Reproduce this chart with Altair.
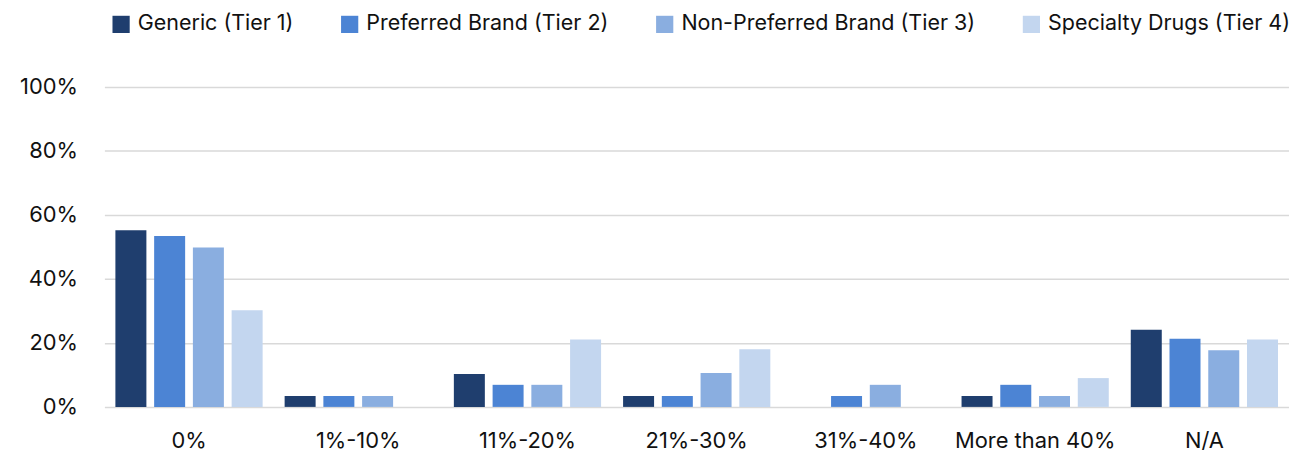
import altair as alt
import pandas as pd

categories = ["0%", "1%-10%", "11%-20%", "21%-30%", "31%-40%", "More than 40%", "N/A"]
series_names = ["Generic (Tier 1)", "Preferred Brand (Tier 2)",
                "Non-Preferred Brand (Tier 3)", "Specialty Drugs (Tier 4)"]
tier1 = [55.2, 3.4, 10.3, 3.4, 0.0, 3.4, 24.1]
tier2 = [53.4, 3.4, 6.9, 3.4, 3.4, 6.9, 21.3]
tier3 = [49.8, 3.4, 6.9, 10.6, 6.9, 3.4, 17.7]
tier4 = [30.2, 0.0, 21.1, 18.0, 0.0, 9.0, 21.1]
colors = ["#1f3e6e", "#4c84d4", "#8aaee0", "#c3d6ef"]
y_ticks = [0, 0.2, 0.4, 0.6, 0.8, 1.0]

rows = []
for name, vals in zip(series_names, [tier1, tier2, tier3, tier4]):
    for c, v in zip(categories, vals):
        rows.append({"category": c, "series": name, "value": v / 100.0})
df = pd.DataFrame(rows)

FONT = "Inter"
FS = 22

chart = alt.Chart(df).mark_bar().encode(
    x=alt.X("category:N", sort=categories, title=None,
            scale=alt.Scale(paddingInner=0.13, paddingOuter=0.065),
            axis=alt.Axis(labelAngle=0, ticks=False, domain=False, labelPadding=24,
                          labelFontSize=FS, labelColor="#111111", labelFont=FONT,
                          labelLimit=0)),
    xOffset=alt.XOffset("series:N", sort=series_names,
                        scale=alt.Scale(paddingInner=0.2, paddingOuter=0)),
    y=alt.Y("value:Q", title=None,
            scale=alt.Scale(domain=[0, 1], nice=False),
            axis=alt.Axis(values=y_ticks, format=".0%", ticks=False, domain=False,
                          labelPadding=27, labelFontSize=FS, labelColor="#111111",
                          labelFont=FONT, gridColor="#d9d9d9", gridWidth=1.5)),
    color=alt.Color("series:N", sort=series_names,
                    scale=alt.Scale(domain=series_names, range=colors),
                    legend=alt.Legend(title=None, orient="none", direction="horizontal",
                                      legendX=6, legendY=-74, symbolType="square",
                                      symbolSize=300, symbolStrokeWidth=0,
                                      labelFontSize=21.6, labelFont=FONT, labelLimit=0,
                                      labelColor="#111111", labelOffset=6,
                                      columnPadding=45)),
).properties(
    width=1192,
    height=322,
    autosize=alt.AutoSizeParams(type="none"),
    padding={"left": 97, "top": 78, "right": 0, "bottom": 45},
).configure_view(stroke=None).configure_legend(symbolOpacity=1)

chart.save("out.html", embed_options={"renderer": "svg", "actions": False})
